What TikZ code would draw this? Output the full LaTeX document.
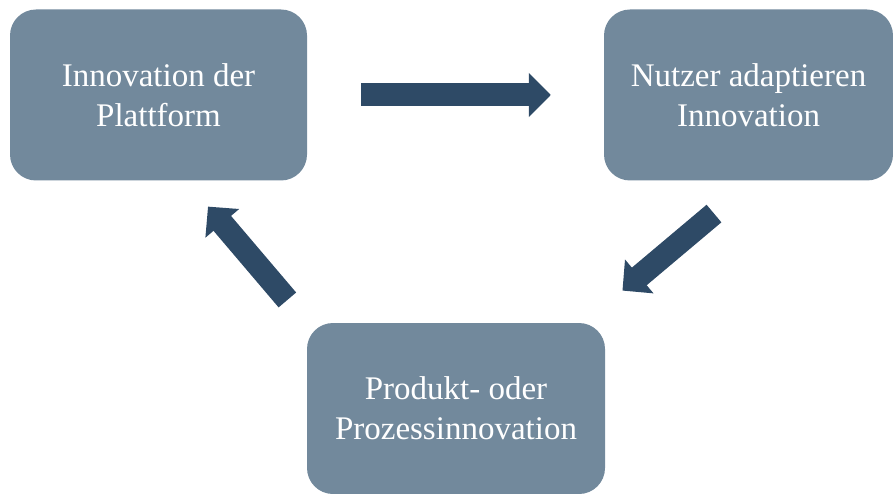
\documentclass[tikz,border=0pt]{standalone}
\usepackage{fontspec}
\setmainfont{Liberation Serif}
\usetikzlibrary{arrows.meta,calc}
\definecolor{boxblue}{HTML}{72899C}
\definecolor{arrowblue}{HTML}{2E4A66}
\begin{document}
\begin{tikzpicture}[x=1pt,y=-1pt,
    stepbox/.style={fill=boxblue,rounded corners=26pt,text=white,align=center,
      minimum height=171pt,inner sep=0pt,font=\fontsize{33}{40}\selectfont},
    bigarrow/.style={draw=arrowblue,line width=23pt,-{Triangle[length=22pt,width=43pt]}}]
  \useasboundingbox (0,0) rectangle (893,494);
  \node[stepbox,minimum width=297pt] (plattform) at (158.5,95) {Innovation der\\Plattform};
  \node[stepbox,minimum width=289pt] (nutzer) at (748.5,95) {Nutzer adaptieren\\Innovation};
  \node[stepbox,minimum width=298pt] (produkt) at (456,408.5) {Produkt- oder\\Prozessinnovation};
  % cycle of arrows
  \draw[bigarrow,shorten <=54pt,shorten >=53pt] (plattform.east) -- (nutzer.west);
  \draw[bigarrow,shorten <=51pt,shorten >=50pt] ($(nutzer.south)+(4.5,0)$) -- ($(produkt.north east)+(-21,0)$);
  \draw[bigarrow,shorten <=30pt,shorten >=34pt] (produkt.north west) -- ($(plattform.south)+(27.5,0)$);
\end{tikzpicture}
\end{document}
